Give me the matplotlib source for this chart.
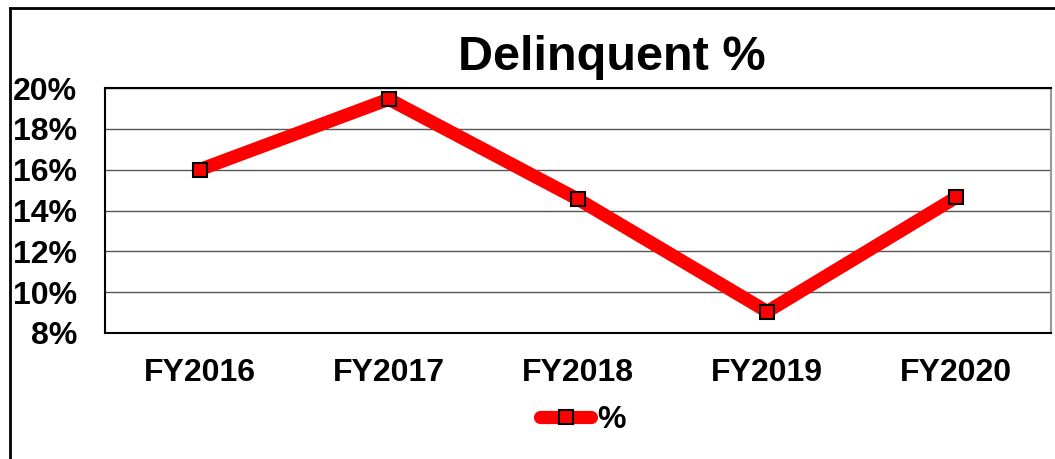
import matplotlib
matplotlib.use("Agg")
import matplotlib.pyplot as plt
from matplotlib.lines import Line2D

categories = ["FY2016", "FY2017", "FY2018", "FY2019", "FY2020"]
values = [16.0, 19.45, 14.55, 9.05, 14.65]
yticks = [8, 10, 12, 14, 16, 18, 20]
ytick_labels = ["8%", "10%", "12%", "14%", "16%", "18%", "20%"]

plt.rcParams['font.family'] = ['Liberation Sans', 'DejaVu Sans']

fig = plt.figure(figsize=(10.55, 4.59), dpi=100)
ax = fig.add_axes([105/1055, 1-333/459, (1051-105)/1055, (333-88)/459])

x = list(range(len(categories)))
ax.plot(x, values, color="#ff0000", lw=9.5, solid_capstyle="round", zorder=3,
        marker="s", markersize=10, markerfacecolor="#ff0000",
        markeredgecolor="black", markeredgewidth=1.5, label="%")

ax.set_xlim(-0.5, len(categories) - 0.5)
ax.set_ylim(8, 20)
ax.set_yticks(yticks)
ax.set_yticklabels(ytick_labels, fontsize=23, fontweight="bold")
ax.set_xticks(x)
ax.set_xticklabels(categories, fontsize=23, fontweight="bold")
ax.tick_params(axis="both", length=0)
ax.tick_params(axis="y", pad=20)
ax.tick_params(axis="x", pad=18)

ax.grid(axis="y", color="#555555", lw=1)
ax.set_axisbelow(True)
for s in ["left", "top", "bottom"]:
    ax.spines[s].set_color("black")
    ax.spines[s].set_linewidth(1.5)
ax.spines["right"].set_color("#999999")
ax.spines["right"].set_linewidth(1.5)

fig.text(612/1055, 1-58/459, "Delinquent %", ha="center", va="center",
         fontsize=35, fontweight="bold")

handle = Line2D([0], [0], color="#ff0000", lw=9.5, solid_capstyle="round",
                marker="s", markersize=10, markerfacecolor="#ff0000",
                markeredgecolor="black", markeredgewidth=1.5)
leg = fig.legend([handle], ["%"], loc="center", bbox_to_anchor=(583/1055, 1-420/459),
                 frameon=False, prop={"size": 23, "weight": "bold"},
                 handlelength=1.6, handletextpad=0.2)

# figure border lines
fig.add_artist(Line2D([10/1055, 10/1055], [0, 1-8/459], color="black", lw=2,
                      transform=fig.transFigure))
fig.add_artist(Line2D([10/1055, 1], [1-8/459, 1-8/459], color="black", lw=2,
                      transform=fig.transFigure))

fig.savefig("out.png", dpi=100)
